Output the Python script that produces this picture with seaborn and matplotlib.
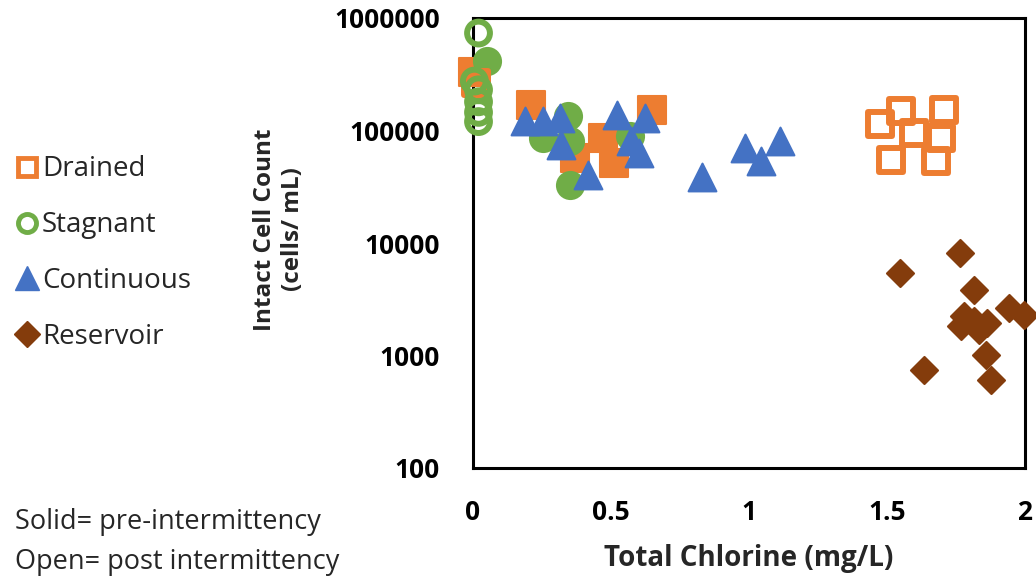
import numpy as np
import pandas as pd
import matplotlib
matplotlib.use("Agg")
import matplotlib.pyplot as plt
from matplotlib.lines import Line2D
import seaborn as sns

# ---- data ----
drained_solid_x = [0.00, 0.21, 0.65, 0.47, 0.51, 0.37]
drained_solid_y = [330000, 168000, 151000, 86000, 51000, 57000]
drained_open_x = [0.01, 1.474, 1.55, 1.597, 1.706, 1.695, 1.514, 1.677]
drained_open_y = [265000, 114000, 149000, 95000, 151000, 86000, 55000, 54000]

stagnant_solid_x = [0.05, 0.345, 0.254, 0.352, 0.35, 0.57]
stagnant_solid_y = [415000, 134000, 86000, 33000, 80000, 90000]
stagnant_open_x = [0.02, 0.005, 0.02, 0.02, 0.02, 0.02]
stagnant_open_y = [735000, 275000, 230000, 180000, 145000, 120000]

continuous_x = [0.19, 0.254, 0.316, 0.32, 0.417, 0.52, 0.624, 0.574, 0.60,
                0.828, 0.987, 1.042, 1.114]
continuous_y = [121000, 121000, 129000, 74000, 40000, 137000, 129000, 81000, 63000,
                39000, 70000, 54000, 81000]

reservoir_x = [1.546, 1.764, 1.815, 1.779, 1.768, 1.815, 1.862, 1.833, 1.942, 1.996,
               1.858, 1.877, 1.633]
reservoir_y = [5400, 8150, 3800, 2250, 1830, 2030, 1950, 1690, 2640, 2290,
               1010, 605, 745]

categories = ["Drained", "Stagnant", "Continuous", "Reservoir"]
colors = {"Drained": "#ED7D31", "Stagnant": "#70AD47",
          "Continuous": "#4472C4", "Reservoir": "#843C0C"}
x_ticks = [0, 0.5, 1, 1.5, 2]
x_tick_labels = ["0", "0.5", "1", "1.5", "2"]
y_ticks = [100, 1000, 10000, 100000, 1000000]
y_tick_labels = ["100", "1000", "10000", "100000", "1000000"]

sns.set_theme(style="white")
plt.rcParams["font.family"] = ["Open Sans", "DejaVu Sans"]

fig = plt.figure(figsize=(10.36, 5.8), dpi=100)
ax = fig.add_axes([473/1036, 1-468/580, (1025-473)/1036, (468-18)/580])

def df(x, y):
    return pd.DataFrame({"x": x, "y": y})

# filled markers
sns.scatterplot(data=df(drained_solid_x, drained_solid_y), x="x", y="y", ax=ax,
                marker="s", color=colors["Drained"], s=420, linewidth=1.5,
                edgecolor=colors["Drained"], zorder=3)
sns.scatterplot(data=df(stagnant_solid_x, stagnant_solid_y), x="x", y="y", ax=ax,
                marker="o", color=colors["Stagnant"], s=440, linewidth=0, zorder=3)
# open markers
sns.scatterplot(data=df(drained_open_x, drained_open_y), x="x", y="y", ax=ax,
                marker="s", color=colors["Drained"], s=300, zorder=3)
c = ax.collections[-1]
c.set_facecolor("none"); c.set_edgecolor(colors["Drained"]); c.set_linewidth(4.3)
sns.scatterplot(data=df(stagnant_open_x, stagnant_open_y), x="x", y="y", ax=ax,
                marker="o", color=colors["Stagnant"], s=270, zorder=3)
c = ax.collections[-1]
c.set_facecolor("none"); c.set_edgecolor(colors["Stagnant"]); c.set_linewidth(4.3)
sns.scatterplot(data=df(continuous_x, continuous_y), x="x", y="y", ax=ax,
                marker="^", color=colors["Continuous"], s=400, linewidth=1.5,
                edgecolor=colors["Continuous"], zorder=4)
sns.scatterplot(data=df(reservoir_x, reservoir_y), x="x", y="y", ax=ax,
                marker="D", color=colors["Reservoir"], s=190, linewidth=1.5,
                edgecolor=colors["Reservoir"], zorder=3)

for coll in ax.collections:
    coll.set_clip_on(False)

ax.set_yscale("log")
ax.set_xlim(0, 2)
ax.set_ylim(100, 1000000)
ax.set_xticks(x_ticks)
ax.set_xticklabels(x_tick_labels)
ax.set_yticks(y_ticks)
ax.set_yticklabels(y_tick_labels)
ax.minorticks_off()
ax.tick_params(axis="both", length=0, labelsize=19, colors="black")
ax.tick_params(axis="x", pad=22)
ax.tick_params(axis="y", pad=24)
for lab in ax.get_xticklabels() + ax.get_yticklabels():
    lab.set_fontweight("bold")
for sp in ax.spines.values():
    sp.set_visible(True)
    sp.set_color("black")
    sp.set_linewidth(2.2)

ax.set_xlabel("Total Chlorine (mg/L)", fontsize=20, fontweight="bold", labelpad=13)
ax.set_ylabel("Intact Cell Count\n(cells/ mL)", fontsize=17.5, fontweight="bold",
              linespacing=1.2)
ax.yaxis.set_label_coords(-0.305, 0.53)

# legend
markers = {"Drained": "s", "Stagnant": "o", "Continuous": "^", "Reservoir": "D"}
handles = []
for cat in categories:
    open_ = cat in ("Drained", "Stagnant")
    ms = {"s": 13, "o": 13, "^": 17, "D": 13}[markers[cat]]
    handles.append(Line2D([], [], linestyle="none", marker=markers[cat], markersize=ms,
                          markerfacecolor="white" if open_ else colors[cat],
                          markeredgecolor=colors[cat],
                          markeredgewidth=3.5 if open_ else 1))
leg = fig.legend(handles, categories, loc="upper left",
                 bbox_to_anchor=(-0.005, 1-136/580), frameon=False, fontsize=20,
                 handlelength=0.9, handletextpad=0.1, labelspacing=1.0,
                 borderaxespad=0.3)

fig.text(15/1036, 1-522/580, "Solid= pre-intermittency", fontsize=19.5, va="center", ha="left")
fig.text(15/1036, 1-562/580, "Open= post intermittency", fontsize=19.5, va="center", ha="left")

fig.savefig("out.png", dpi=100, facecolor="white")
